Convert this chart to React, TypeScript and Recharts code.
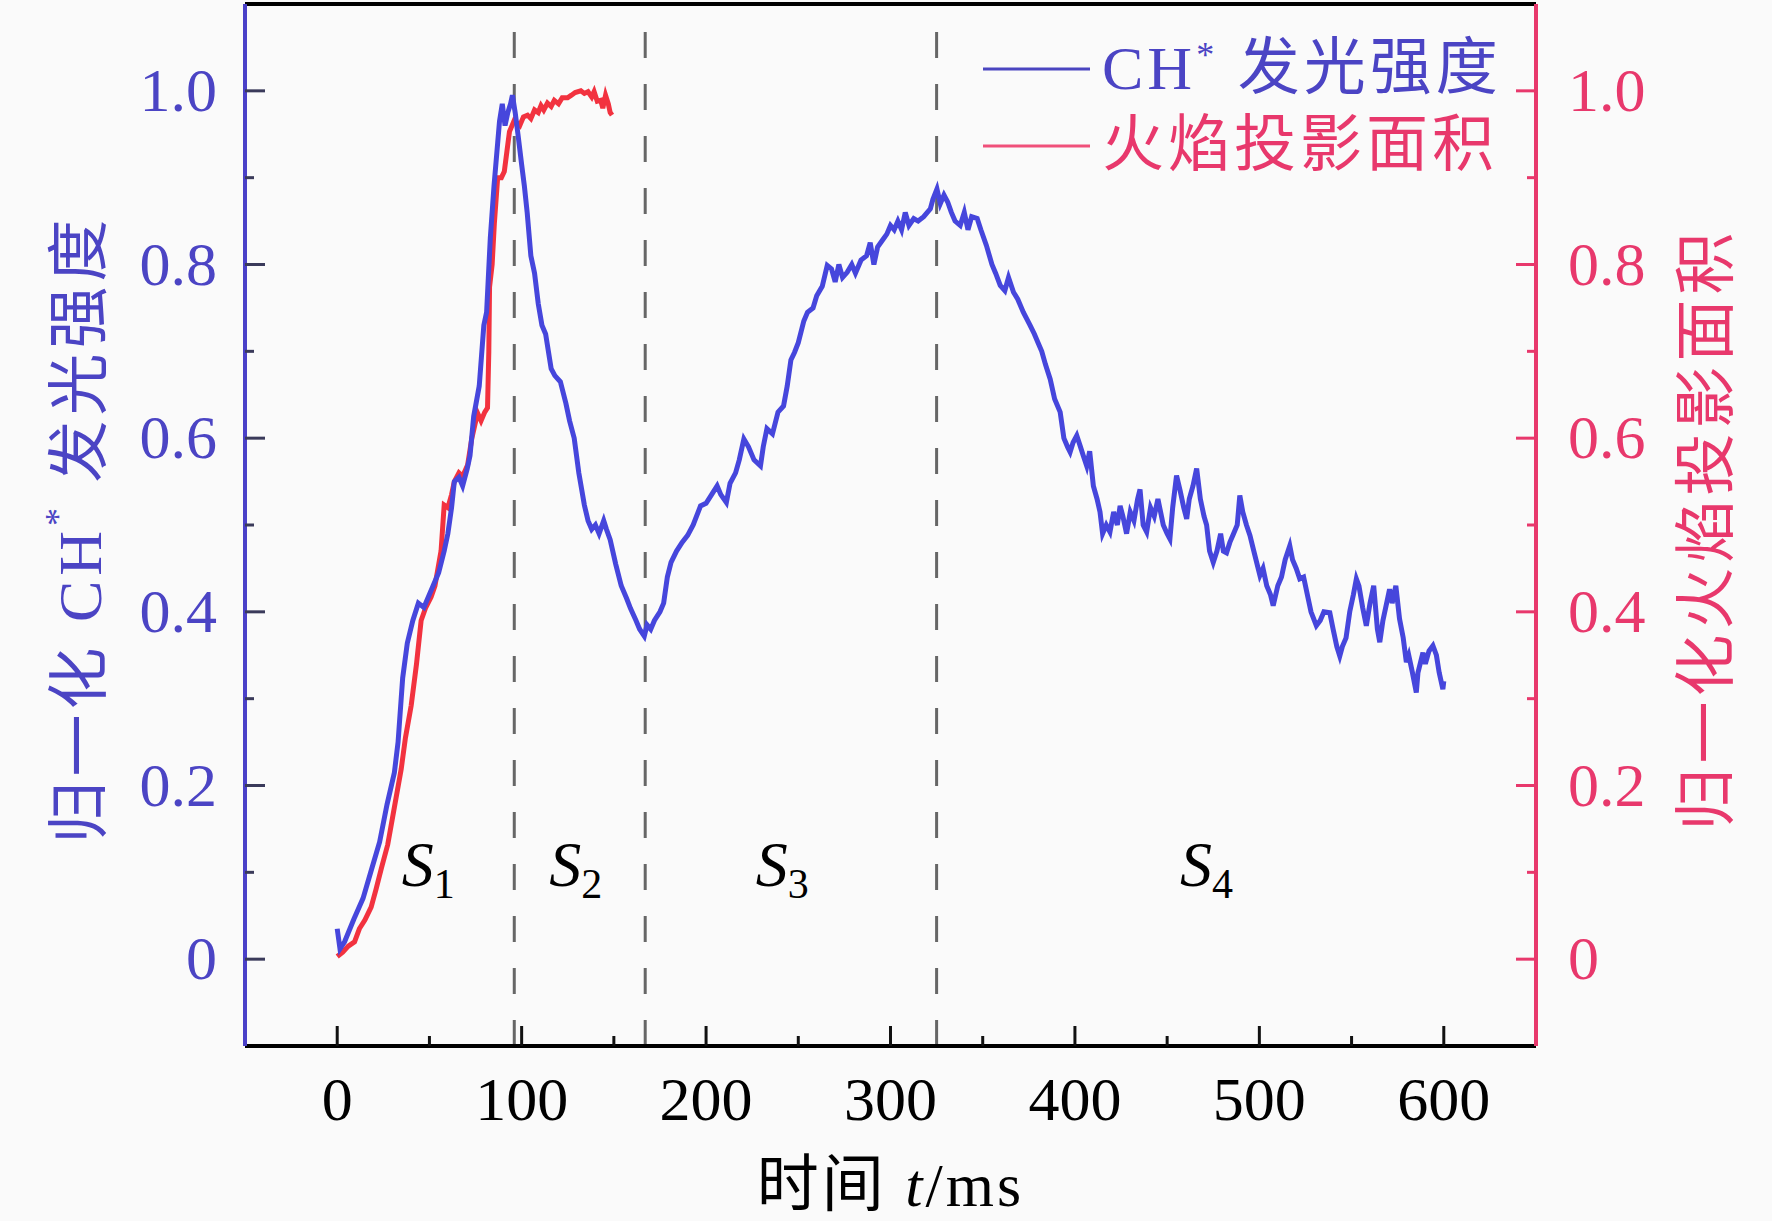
import React from "react";
import { LineChart, Line, XAxis, YAxis, ReferenceLine, ReferenceDot } from "recharts";

const BLUE = "#4646dc";
const BLUE_TEXT = "#4b44c4";
const RED = "#f2323f";
const PINK = "#e8386c";
const FONT = "'Liberation Serif', 'Noto Sans CJK SC', serif";

// axes
const timeTicks = [0, 50, 100, 150, 200, 250, 300, 350, 400, 450, 500, 550, 600];
const valueTicks = [0, 0.1, 0.2, 0.3, 0.4, 0.5, 0.6, 0.7, 0.8, 0.9, 1.0];

// stage boundaries (ms) and stage labels
const stageBounds = [96, 167, 325];
const stageNames = ["1", "2", "3", "4"];
const stageTime = [35, 115, 227, 457];
const stageLevel = 0.084;

// normalized CH* luminous intensity
const chTime = [
  0, 1.5, 4, 9, 14, 18, 23, 27, 31, 33, 35.5, 38, 41, 44, 47, 49, 52, 55, 58, 60,
  62, 63.5, 66, 68, 70.5, 72, 74, 77, 79.5, 81, 83, 85, 87, 88, 89.5, 91, 92.5, 94, 95, 96.5,
  98, 100, 101.5, 103, 105, 107, 109, 111, 113, 116, 118, 121, 124, 126, 128.5, 131, 134, 136, 138, 140,
  142, 144.5, 146, 148, 151, 154, 157, 159, 162, 164, 166.5, 168, 170, 172, 175, 177, 179, 181, 184, 187,
  190, 193, 197, 200, 203, 206, 208, 211, 213, 216, 218, 220.5, 223, 226, 229.5, 231, 233, 236, 239, 242,
  244, 246, 248, 250, 253, 255, 258, 260, 263, 265.7, 268, 270, 272, 274, 276.5, 279, 281, 284, 287, 289,
  291, 293, 296, 298, 300, 302, 304, 306, 308, 310, 312.6, 315, 318, 321.6, 323, 325.2, 327, 329, 331, 333,
  335, 337.8, 340, 342, 344, 347, 349, 352, 355, 357, 359.5, 362, 364, 366.7, 369, 372, 375.7, 378, 380, 382,
  384, 386.6, 389, 392, 394, 396, 397.4, 399, 401, 403, 404.5, 406.4, 408, 410, 412, 413.6, 415, 417, 419, 421,
  423, 424.5, 426, 428, 430, 432, 434, 435.3, 437, 438.9, 441, 443, 445, 447.9, 450, 451.5, 453, 455.1, 457, 459,
  460.6, 462, 464, 466, 468, 470, 471.4, 473, 475, 477, 479, 480.5, 482.2, 484, 486, 488, 489.4, 491, 493, 494.9,
  497, 500.3, 502, 504, 506, 507.5, 510, 512, 514, 516.5, 518, 520, 521.9, 524, 526, 528, 530.9, 533, 535, 538.2,
  540, 542, 543.6, 545, 547, 549, 551, 552.6, 554, 556, 558, 560, 562, 564, 565.3, 567, 569, 570.6, 572, 574,
  576, 578, 579.7, 581, 583, 585.1, 586, 588.7, 590, 592, 594.1, 596, 597.5, 599.5, 600,
];
const chValue = [
  0.035, 0.012, 0.02, 0.046, 0.07, 0.099, 0.135, 0.178, 0.215, 0.25, 0.324, 0.364, 0.39, 0.41, 0.405, 0.415, 0.43, 0.445, 0.47, 0.49,
  0.52, 0.55, 0.555, 0.545, 0.565, 0.58, 0.625, 0.66, 0.73, 0.745, 0.83, 0.89, 0.94, 0.965, 0.985, 0.96, 0.975, 0.985, 0.995, 0.975,
  0.95, 0.915, 0.89, 0.86, 0.81, 0.79, 0.755, 0.73, 0.72, 0.68, 0.672, 0.665, 0.64, 0.62, 0.6, 0.56, 0.523, 0.505, 0.495, 0.5,
  0.49, 0.505, 0.495, 0.483, 0.455, 0.43, 0.415, 0.404, 0.39, 0.38, 0.372, 0.385, 0.38, 0.39, 0.4, 0.41, 0.44, 0.457, 0.47, 0.48,
  0.488, 0.5, 0.522, 0.525, 0.535, 0.545, 0.535, 0.526, 0.548, 0.56, 0.575, 0.599, 0.59, 0.575, 0.568, 0.59, 0.611, 0.605, 0.63, 0.637,
  0.66, 0.69, 0.699, 0.71, 0.735, 0.745, 0.75, 0.764, 0.775, 0.799, 0.795, 0.78, 0.8, 0.785, 0.791, 0.8, 0.79, 0.805, 0.81, 0.825,
  0.8, 0.82, 0.829, 0.835, 0.845, 0.84, 0.85, 0.84, 0.86, 0.845, 0.853, 0.85, 0.855, 0.864, 0.875, 0.887, 0.87, 0.88, 0.872, 0.86,
  0.85, 0.845, 0.86, 0.84, 0.855, 0.853, 0.84, 0.822, 0.8, 0.79, 0.776, 0.77, 0.785, 0.768, 0.76, 0.745, 0.73, 0.72, 0.71, 0.7,
  0.685, 0.668, 0.645, 0.63, 0.6, 0.59, 0.584, 0.595, 0.603, 0.59, 0.58, 0.568, 0.585, 0.545, 0.53, 0.515, 0.49, 0.5, 0.492, 0.515,
  0.5, 0.522, 0.51, 0.49, 0.515, 0.505, 0.53, 0.541, 0.5, 0.492, 0.52, 0.51, 0.53, 0.5, 0.49, 0.484, 0.52, 0.557, 0.54, 0.52,
  0.507, 0.53, 0.545, 0.565, 0.53, 0.51, 0.5, 0.47, 0.457, 0.47, 0.49, 0.47, 0.468, 0.48, 0.49, 0.5, 0.534, 0.515, 0.5, 0.488,
  0.47, 0.442, 0.45, 0.43, 0.42, 0.407, 0.43, 0.44, 0.46, 0.476, 0.46, 0.45, 0.438, 0.44, 0.42, 0.4, 0.384, 0.39, 0.4, 0.399,
  0.38, 0.36, 0.349, 0.36, 0.37, 0.4, 0.42, 0.438, 0.43, 0.405, 0.384, 0.41, 0.43, 0.38, 0.365, 0.39, 0.41, 0.426, 0.41, 0.43,
  0.392, 0.37, 0.342, 0.35, 0.33, 0.307, 0.33, 0.353, 0.34, 0.355, 0.361, 0.35, 0.33, 0.311, 0.32,
];

// normalized flame projected area
const areaTime = [
  0, 3, 6, 9.4, 12, 15, 18.4, 21, 24, 27.4, 31, 34.7, 37, 40.1, 43, 45.5, 48, 50.9, 53, 56.3,
  58, 60, 62, 63.5, 66, 68, 70.7, 73, 76.1, 78, 80, 81.5, 82.2, 82.6, 84, 85.2, 87, 89, 90.6, 92,
  93.4, 96, 99, 101, 103.2, 105, 107, 109, 110.5, 112, 114, 116, 117.7, 120, 122, 124.9, 127, 129, 132.1, 134,
  136, 138, 139.3, 141, 142.9, 144, 145.5, 147, 148, 149,
];
const areaValue = [
  0.003, 0.008, 0.015, 0.02, 0.035, 0.045, 0.06, 0.08, 0.105, 0.132, 0.175, 0.219, 0.255, 0.292, 0.34, 0.39, 0.405, 0.417, 0.43, 0.47,
  0.523, 0.52, 0.535, 0.55, 0.56, 0.556, 0.569, 0.6, 0.629, 0.62, 0.63, 0.635, 0.7, 0.774, 0.8, 0.847, 0.9, 0.9, 0.907, 0.93,
  0.953, 0.966, 0.96, 0.97, 0.972, 0.968, 0.978, 0.975, 0.983, 0.978, 0.986, 0.982, 0.989, 0.985, 0.992, 0.992, 0.995, 0.998, 1.0, 0.997,
  0.999, 0.993, 0.999, 0.988, 0.989, 0.98, 0.995, 0.985, 0.975, 0.972,
];

const chData = chTime.map((t, i) => ({ t, v: chValue[i] }));
const areaData = areaTime.map((t, i) => ({ t, v: areaValue[i] }));

const fmtValue = (v: number) => (v === 0 ? "0" : v.toFixed(1));
const isMajorValue = (v: number) => Math.round(v * 10) % 2 === 0;

function TimeTick({ x, y, payload }: any) {
  const major = payload.value % 100 === 0;
  return (
    <g>
      <line x1={x} x2={x} y1={y} y2={y - (major ? 20 : 10)} stroke="#111" strokeWidth={3} />
      {major && (
        <text x={x} y={y + 74} textAnchor="middle" fontSize={62} fill="#000" fontFamily={FONT}>
          {payload.value}
        </text>
      )}
    </g>
  );
}

function LeftTick({ x, y, payload }: any) {
  const major = isMajorValue(payload.value);
  return (
    <g>
      <line x1={x} x2={x + (major ? 20 : 9)} y1={y} y2={y} stroke="#3a3a5a" strokeWidth={3} />
      {major && (
        <text x={x - 28} y={y} dy={20} textAnchor="end" fontSize={62} fill={BLUE_TEXT} fontFamily={FONT}>
          {fmtValue(payload.value)}
        </text>
      )}
    </g>
  );
}

function RightTick({ x, y, payload }: any) {
  const major = isMajorValue(payload.value);
  return (
    <g>
      <line x1={x} x2={x - (major ? 20 : 9)} y1={y} y2={y} stroke={PINK} strokeWidth={3} />
      {major && (
        <text x={x + 32} y={y} dy={20} textAnchor="start" fontSize={62} fill={PINK} fontFamily={FONT}>
          {fmtValue(payload.value)}
        </text>
      )}
    </g>
  );
}

function StageLabel({ cx, cy, name }: any) {
  return (
    <text x={cx} y={cy} fontSize={64} fontFamily={FONT} fill="#000">
      <tspan fontStyle="italic">S</tspan>
      <tspan fontSize={42} dy={12}>{name}</tspan>
    </text>
  );
}

function LeftTitle({ viewBox }: any) {
  const cx = viewBox.x - 164;
  const cy = viewBox.y + viewBox.height / 2 + 4;
  return (
    <text x={cx} y={cy} transform={`rotate(-90 ${cx} ${cy})`} textAnchor="middle" dominantBaseline="central"
      fontSize={62} fill={BLUE_TEXT} fontFamily={FONT} letterSpacing={5}>
      归一化 CH<tspan fontSize={36} dy={-22}>*</tspan><tspan dy={22}> 发光强度</tspan>
    </text>
  );
}

function RightTitle({ viewBox }: any) {
  const cx = viewBox.x + 171;
  const cy = viewBox.y + viewBox.height / 2 + 4;
  return (
    <text x={cx} y={cy} transform={`rotate(-90 ${cx} ${cy})`} textAnchor="middle" dominantBaseline="central"
      fontSize={62} fill={PINK} fontFamily={FONT} letterSpacing={5}>
      归一化火焰投影面积
    </text>
  );
}

function BottomTitle({ viewBox }: any) {
  return (
    <text x={viewBox.x + viewBox.width / 2} y={viewBox.y + 160} textAnchor="middle" fontSize={62} fill="#000"
      fontFamily={FONT} letterSpacing={3}>
      时间 <tspan fontStyle="italic">t</tspan>/ms
    </text>
  );
}

export default function App() {
  return (
    <div style={{ position: "absolute", left: 0, top: 0, width: 1772, height: 1221, background: "#fafafa", fontFamily: FONT }}>
      <LineChart width={1772} height={1221} margin={{ top: 3, right: 235, bottom: 174, left: 244 }}>
        <XAxis dataKey="t" type="number" domain={[-50, 650]} ticks={timeTicks} interval={0}
          tick={<TimeTick />} tickLine={false} tickSize={0} tickMargin={0} height={1}
          axisLine={{ stroke: "#000", strokeWidth: 4 }} label={<BottomTitle />} />
        <XAxis xAxisId="top" orientation="top" type="number" domain={[-50, 650]} tick={false} tickLine={false}
          height={1} axisLine={{ stroke: "#000", strokeWidth: 4 }} />
        <YAxis yAxisId="left" type="number" domain={[-0.1, 1.1]} ticks={valueTicks} interval={0}
          tick={<LeftTick />} tickLine={false} tickSize={0} tickMargin={0} width={1}
          axisLine={{ stroke: "#4a40c8", strokeWidth: 4 }} label={<LeftTitle />} />
        <YAxis yAxisId="right" orientation="right" type="number" domain={[-0.1, 1.1]} ticks={valueTicks} interval={0}
          tick={<RightTick />} tickLine={false} tickSize={0} tickMargin={0} width={1}
          axisLine={{ stroke: PINK, strokeWidth: 4 }} label={<RightTitle />} />
        {stageBounds.map((b) => (
          <ReferenceLine key={b} x={b} yAxisId="left" stroke="#666" strokeWidth={3} strokeDasharray="26 26" />
        ))}
        {stageNames.map((n, i) => (
          <ReferenceDot key={n} x={stageTime[i]} y={stageLevel} yAxisId="left" r={0}
            shape={(p: any) => <StageLabel cx={p.cx} cy={p.cy} name={n} />} />
        ))}
        <Line data={areaData} dataKey="v" yAxisId="right" type="linear" dot={false} stroke={RED}
          strokeWidth={5} isAnimationActive={false} />
        <Line data={chData} dataKey="v" yAxisId="left" type="linear" dot={false} stroke={BLUE}
          strokeWidth={5} isAnimationActive={false} />
      </LineChart>
      <div style={{ position: "absolute", left: 983, top: 30, fontSize: 62, lineHeight: "77px", letterSpacing: 4 }}>
        <div style={{ display: "flex", alignItems: "center", color: BLUE_TEXT }}>
          <svg width={107} height={10}><line x1={0} x2={107} y1={5} y2={5} stroke="#4a45c0" strokeWidth={3} /></svg>
          <span style={{ marginLeft: 12, whiteSpace: "nowrap" }}>
            CH<span style={{ fontSize: 36, verticalAlign: "top", lineHeight: "50px" }}>*</span> 发光强度
          </span>
        </div>
        <div style={{ display: "flex", alignItems: "center", color: PINK }}>
          <svg width={107} height={10}><line x1={0} x2={107} y1={5} y2={5} stroke="#f0507a" strokeWidth={3} /></svg>
          <span style={{ marginLeft: 12, whiteSpace: "nowrap" }}>火焰投影面积</span>
        </div>
      </div>
    </div>
  );
}
